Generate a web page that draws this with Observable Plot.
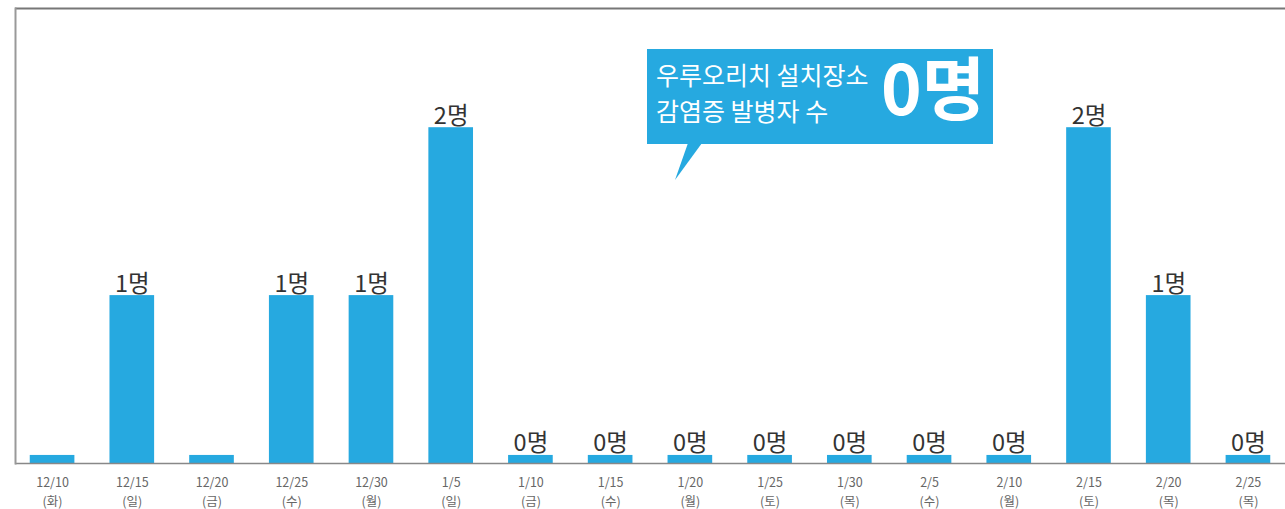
<!DOCTYPE html>
<html>
<head>
<meta charset="utf-8">
<script src="https://cdn.jsdelivr.net/npm/d3@7"></script>
<script src="https://cdn.jsdelivr.net/npm/@observablehq/plot@0.6"></script>
<style>
  html, body { margin: 0; padding: 0; background: #fff; }
  #wrap { position: relative; width: 1285px; height: 509px; overflow: hidden; font-family: 'Noto Sans CJK KR', 'Noto Sans', sans-serif; }
  #callout { position: absolute; left: 647px; top: 49px; width: 346px; height: 95px; background: #26a9e0; color: #fff; }
  #callout .t { position: absolute; left: 9px; font-size: 25px; line-height: 1; font-weight: 400; white-space: nowrap; }
  #callout .big { position: absolute; left: 234px; top: 2px; font-size: 69px; font-weight: 700; line-height: 1; white-space: nowrap; }
  #pointer { position: absolute; left: 0; top: 0; }
</style>
</head>
<body>
<div id="wrap">
  <div id="chart"></div>
  <svg id="pointer" width="1285" height="509"><polygon points="688,143 702,143 675,180" fill="#26a9e0"/></svg>
  <div id="callout">
    <div class="t" style="top:13px">우루오리치 설치장소</div>
    <div class="t" style="top:49px">감염증 발병자 수</div>
    <div class="big">0명</div>
  </div>
</div>
<script>
const dates = ["12/10","12/15","12/20","12/25","12/30","1/5","1/10","1/15","1/20","1/25","1/30","2/5","2/10","2/15","2/20","2/25"];
const days = ["화","일","금","수","월","일","금","수","월","토","목","수","월","토","목","목"];
const cases = [null,1,null,1,1,2,0,0,0,0,0,0,0,2,1,0];

const stub = 0.048;
const data = dates.map((d, i) => ({date: d, day: days[i], value: cases[i]}));
const blue = "#26a9e0";

const chart = Plot.plot({
  width: 1285,
  height: 509,
  marginLeft: 15,
  marginRight: 0,
  marginTop: 8,
  marginBottom: 46,
  style: {fontFamily: "'Noto Sans CJK KR', 'Noto Sans', sans-serif", background: "#fff"},
  x: {domain: dates, paddingInner: 0.44, paddingOuter: 0.185, round: false, label: null},
  y: {domain: [0, 2.71], axis: null},
  marks: [
    Plot.barY(data, {x: "date", y: d => d.value == null || d.value === 0 ? stub : d.value, fill: blue}),
    Plot.text(data.filter(d => d.value != null), {
      x: "date",
      y: d => d.value === 0 ? stub : d.value,
      text: d => `${d.value}명`,
      lineAnchor: "bottom",
      dy: -4,
      fontSize: 23.5,
      fill: "#333"
    }),
    Plot.ruleY([0], {stroke: "#888", strokeWidth: 1.5}),
    Plot.ruleY([2.71], {stroke: "#777", strokeWidth: 2}),
    Plot.frame({anchor: "left", stroke: "#999", strokeWidth: 2}),
    Plot.axisX({
      tickSize: 0,
      tickPadding: 10,
      fontSize: 12.5,
      lineHeight: 1.5,
      color: "#666",
      fill: "#666",
      tickFormat: (d) => `${d}\n(${days[dates.indexOf(d)]})`
    })
  ]
});
document.getElementById("chart").appendChild(chart);
</script>
</body>
</html>
